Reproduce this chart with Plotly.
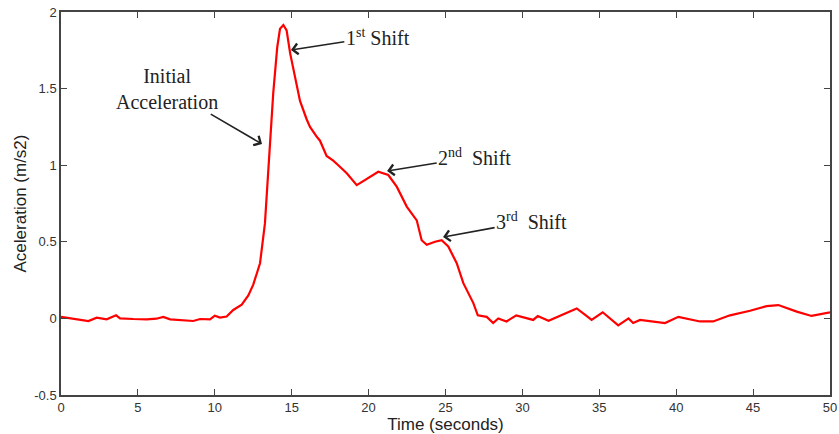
import plotly.graph_objects as go

time_s = [0.0, 0.7, 1.24, 1.78, 2.32, 2.97, 3.58, 3.84, 4.7, 5.57, 6.2, 6.65, 7.1, 7.74,
          8.6, 9.04, 9.69, 10.0, 10.34, 10.77, 11.2, 11.75, 12.18, 12.5, 12.94, 13.26,
          13.37, 13.54, 13.8, 14.06, 14.24, 14.46, 14.67, 14.9, 15.2, 15.54, 15.97, 16.19,
          16.6, 16.84, 17.27, 17.7, 18.03, 18.58, 19.23, 19.55, 20.09, 20.63, 21.28, 21.83,
          22.48, 23.13, 23.45, 23.78, 24.32, 24.75, 25.18, 25.73, 26.16, 26.81, 27.1, 27.68,
          28.1, 28.43, 28.97, 29.6, 30.7, 31.0, 31.7, 32.77, 33.53, 34.0, 34.5, 35.22, 35.7,
          36.23, 36.9, 37.2, 37.65, 39.27, 40.14, 41.55, 42.4, 43.5, 44.8, 45.88, 46.64,
          47.84, 48.8, 49.9, 50.0]
accel = [0.01, 0.0, -0.006, -0.017, 0.005, -0.006, 0.02, 0.0, -0.004, -0.006, -0.002, 0.01,
         -0.006, -0.01, -0.017, -0.004, -0.006, 0.018, 0.005, 0.012, 0.055, 0.09, 0.15, 0.22,
         0.36, 0.62, 0.79, 1.10, 1.47, 1.77, 1.89, 1.915, 1.88, 1.73, 1.58, 1.42, 1.30, 1.25,
         1.19, 1.16, 1.06, 1.03, 1.0, 0.947, 0.87, 0.89, 0.925, 0.957, 0.936, 0.86,
         0.73, 0.64, 0.51, 0.48, 0.50, 0.51, 0.47, 0.36, 0.23, 0.10, 0.02, 0.01,
         -0.03, 0.0, -0.02, 0.02, -0.01, 0.015, -0.015, 0.03, 0.065, 0.03, -0.01, 0.04, 0.0,
         -0.045, 0.0, -0.03, -0.01, -0.03, 0.01, -0.02, -0.02, 0.02, 0.05, 0.08, 0.087,
         0.044, 0.016, 0.037, 0.04]

x_ticks = [0, 5, 10, 15, 20, 25, 30, 35, 40, 45, 50]
y_ticks = [-0.5, 0, 0.5, 1, 1.5, 2]
y_tick_labels = ["-0.5", "0", "0.5", "1", "1.5", "2"]

# annotations: (text, text_x, text_y, head_x, head_y)
notes = [
    ("Initial<br>Acceleration", 6.9, 1.50, 13.07, 1.138),
    ("1<sup>st</sup> Shift", 20.6, 1.84, 14.95, 1.752),
    ("2<sup>nd</sup>  Shift", 26.9, 1.054, 21.2, 0.962),
    ("3<sup>rd</sup>  Shift", 30.6, 0.637, 24.84, 0.531),
]

fig = go.Figure()
fig.add_trace(go.Scatter(x=time_s, y=accel, mode="lines",
                         line=dict(color="#ff0000", width=2.2), showlegend=False))

serif = "Liberation Serif, Times New Roman, serif"
for text, tx, ty, hx, hy in notes:
    fig.add_annotation(x=hx, y=hy, ax=tx, ay=ty, xref="x", yref="y", axref="x", ayref="y",
                       text=text, showarrow=True, arrowhead=4, arrowsize=1.3, arrowwidth=1.6,
                       arrowcolor="#222222", align="center",
                       font=dict(family=serif, size=20, color="#222222"))

axis_common = dict(showline=True, linecolor="#444444", linewidth=1.5, mirror="ticks",
                   ticks="inside", ticklen=6, tickcolor="#444444", tickwidth=1,
                   showgrid=False, zeroline=False, automargin=False,
                   tickfont=dict(family="Liberation Sans, Arial, sans-serif", size=13,
                                 color="#333333"))

fig.update_xaxes(range=[0, 50], tickvals=x_ticks,
                 title=dict(text="Time (seconds)",
                            font=dict(family="Liberation Sans, Arial, sans-serif", size=17,
                                      color="#222222")),
                 **axis_common)
fig.update_yaxes(range=[-0.5, 2], tickvals=y_ticks, ticktext=y_tick_labels,
                 title=dict(text="Aceleration (m/s2)", standoff=3,
                            font=dict(family="Liberation Sans, Arial, sans-serif", size=17,
                                      color="#222222")),
                 **axis_common)

fig.update_layout(width=839, height=434, margin=dict(l=61, r=9, t=12, b=39),
                  plot_bgcolor="white", paper_bgcolor="white")

fig.write_html("out.html")
